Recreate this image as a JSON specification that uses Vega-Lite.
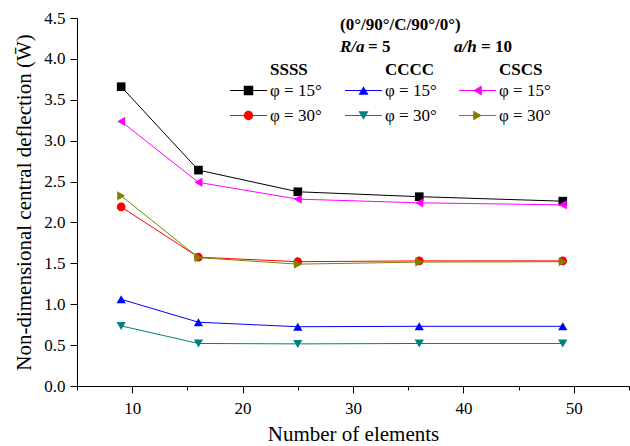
{
  "$schema": "https://vega.github.io/schema/vega-lite/v6.json",
  "width": 552,
  "height": 368,
  "autosize": {"type": "none"},
  "padding": {"left": 77, "top": 18, "right": 1, "bottom": 60},
  "background": "white",
  "data": {"values": [
    {"n": 9, "w": 3.66, "bc": "SSSS", "phi": "φ = 15°"},
    {"n": 16, "w": 2.64, "bc": "SSSS", "phi": "φ = 15°"},
    {"n": 25, "w": 2.375, "bc": "SSSS", "phi": "φ = 15°"},
    {"n": 36, "w": 2.315, "bc": "SSSS", "phi": "φ = 15°"},
    {"n": 49, "w": 2.26, "bc": "SSSS", "phi": "φ = 15°"},
    {"n": 9, "w": 2.19, "bc": "SSSS", "phi": "φ = 30°"},
    {"n": 16, "w": 1.575, "bc": "SSSS", "phi": "φ = 30°"},
    {"n": 25, "w": 1.52, "bc": "SSSS", "phi": "φ = 30°"},
    {"n": 36, "w": 1.53, "bc": "SSSS", "phi": "φ = 30°"},
    {"n": 49, "w": 1.53, "bc": "SSSS", "phi": "φ = 30°"},
    {"n": 9, "w": 1.06, "bc": "CCCC", "phi": "φ = 15°"},
    {"n": 16, "w": 0.78, "bc": "CCCC", "phi": "φ = 15°"},
    {"n": 25, "w": 0.725, "bc": "CCCC", "phi": "φ = 15°"},
    {"n": 36, "w": 0.73, "bc": "CCCC", "phi": "φ = 15°"},
    {"n": 49, "w": 0.73, "bc": "CCCC", "phi": "φ = 15°"},
    {"n": 9, "w": 0.735, "bc": "CCCC", "phi": "φ = 30°"},
    {"n": 16, "w": 0.52, "bc": "CCCC", "phi": "φ = 30°"},
    {"n": 25, "w": 0.515, "bc": "CCCC", "phi": "φ = 30°"},
    {"n": 36, "w": 0.52, "bc": "CCCC", "phi": "φ = 30°"},
    {"n": 49, "w": 0.52, "bc": "CCCC", "phi": "φ = 30°"},
    {"n": 9, "w": 3.235, "bc": "CSCS", "phi": "φ = 15°"},
    {"n": 16, "w": 2.49, "bc": "CSCS", "phi": "φ = 15°"},
    {"n": 25, "w": 2.285, "bc": "CSCS", "phi": "φ = 15°"},
    {"n": 36, "w": 2.24, "bc": "CSCS", "phi": "φ = 15°"},
    {"n": 49, "w": 2.215, "bc": "CSCS", "phi": "φ = 15°"},
    {"n": 9, "w": 2.325, "bc": "CSCS", "phi": "φ = 30°"},
    {"n": 16, "w": 1.57, "bc": "CSCS", "phi": "φ = 30°"},
    {"n": 25, "w": 1.49, "bc": "CSCS", "phi": "φ = 30°"},
    {"n": 36, "w": 1.515, "bc": "CSCS", "phi": "φ = 30°"},
    {"n": 49, "w": 1.52, "bc": "CSCS", "phi": "φ = 30°"}
  ]},
  "layer": [
    {
      "transform": [{"filter": "datum.bc === 'SSSS'"}],
      "mark": {"type": "line", "strokeWidth": 1},
      "encoding": {
        "x": {
          "field": "n", "type": "quantitative",
          "scale": {"domain": [5, 55], "nice": false, "zero": false},
          "axis": {
            "values": [5, 10, 15, 20, 25, 30, 35, 40, 45, 50, 55],
            "labelExpr": "datum.value % 10 === 0 ? datum.label : ''",
            "tickSize": {"condition": {"test": "datum.value % 10 === 0", "value": 7}, "value": 4},
            "labelPadding": 7,
            "labelFlush": false,
            "title": "Number of elements",
            "titlePadding": 7
          }
        },
        "y": {
          "field": "w", "type": "quantitative",
          "scale": {"domain": [0, 4.5], "nice": false},
          "axis": {
            "values": [0, 0.25, 0.5, 0.75, 1, 1.25, 1.5, 1.75, 2, 2.25, 2.5, 2.75, 3, 3.25, 3.5, 3.75, 4, 4.25, 4.5],
            "format": ".1f",
            "labelExpr": "round(datum.value * 4) % 2 === 0 ? datum.label : ''",
            "tickSize": {"condition": {"test": "round(datum.value * 4) % 2 === 0", "value": 7}, "value": 4},
            "labelPadding": 5,
            "labelFlush": false,
            "title": "Non-dimensional central deflection  (W̄)",
            "titlePadding": 9
          }
        },
        "color": {
          "field": "phi", "type": "nominal",
          "scale": {"domain": ["φ = 15°", "φ = 30°"], "range": ["#000000", "#ff0000"]},
          "legend": {
            "orient": "none", "legendX": 163, "legendY": 64, "title": null,
            "symbolType": "M-3.7,0H3.7", "symbolSize": 100, "symbolStrokeWidth": 1,
            "labelFontSize": 17, "labelExpr": "''", "labelOffset": 13, "rowPadding": 7
          }
        }
      }
    },
    {
      "transform": [{"filter": "datum.bc === 'SSSS'"}],
      "mark": {"type": "point", "filled": true, "size": 75, "opacity": 1},
      "encoding": {
        "x": {"field": "n", "type": "quantitative"},
        "y": {"field": "w", "type": "quantitative"},
        "color": {
          "field": "phi", "type": "nominal",
          "scale": {"domain": ["φ = 15°", "φ = 30°"], "range": ["#000000", "#ff0000"]},
          "legend": {
            "orient": "none", "legendX": 163, "legendY": 64, "title": null,
            "labelFont": "Liberation Serif", "labelFontSize": 17, "labelColor": "black",
            "labelOffset": 13, "symbolSize": 90, "rowPadding": 7, "symbolOpacity": 1
          }
        },
        "shape": {"field": "phi", "type": "nominal", "scale": {"domain": ["φ = 15°", "φ = 30°"], "range": ["square", "circle"]}, "legend": null}
      }
    },
    {
      "transform": [{"filter": "datum.bc === 'CCCC'"}],
      "mark": {"type": "line", "strokeWidth": 1},
      "encoding": {
        "x": {"field": "n", "type": "quantitative"},
        "y": {"field": "w", "type": "quantitative"},
        "color": {
          "field": "phi", "type": "nominal",
          "scale": {"domain": ["φ = 15°", "φ = 30°"], "range": ["#0000ff", "#008080"]},
          "legend": {
            "orient": "none", "legendX": 278, "legendY": 64, "title": null,
            "symbolType": "M-3.7,0H3.7", "symbolSize": 100, "symbolStrokeWidth": 1,
            "labelFontSize": 17, "labelExpr": "''", "labelOffset": 13, "rowPadding": 7
          }
        }
      }
    },
    {
      "transform": [{"filter": "datum.bc === 'CCCC'"}],
      "mark": {"type": "point", "filled": true, "size": 85, "opacity": 1},
      "encoding": {
        "x": {"field": "n", "type": "quantitative"},
        "y": {"field": "w", "type": "quantitative"},
        "color": {
          "field": "phi", "type": "nominal",
          "scale": {"domain": ["φ = 15°", "φ = 30°"], "range": ["#0000ff", "#008080"]},
          "legend": {
            "orient": "none", "legendX": 278, "legendY": 64, "title": null,
            "labelFont": "Liberation Serif", "labelFontSize": 17, "labelColor": "black",
            "labelOffset": 13, "symbolSize": 100, "rowPadding": 7, "symbolOpacity": 1
          }
        },
        "shape": {"field": "phi", "type": "nominal", "scale": {"domain": ["φ = 15°", "φ = 30°"], "range": ["triangle-up", "triangle-down"]}, "legend": null}
      }
    },
    {
      "transform": [{"filter": "datum.bc === 'CSCS'"}],
      "mark": {"type": "line", "strokeWidth": 1},
      "encoding": {
        "x": {"field": "n", "type": "quantitative"},
        "y": {"field": "w", "type": "quantitative"},
        "color": {
          "field": "phi", "type": "nominal",
          "scale": {"domain": ["φ = 15°", "φ = 30°"], "range": ["#ff00ff", "#808000"]},
          "legend": {
            "orient": "none", "legendX": 392, "legendY": 64, "title": null,
            "symbolType": "M-3.7,0H3.7", "symbolSize": 100, "symbolStrokeWidth": 1,
            "labelFontSize": 17, "labelExpr": "''", "labelOffset": 13, "rowPadding": 7
          }
        }
      }
    },
    {
      "transform": [{"filter": "datum.bc === 'CSCS'"}],
      "mark": {"type": "point", "filled": true, "size": 85, "opacity": 1},
      "encoding": {
        "x": {"field": "n", "type": "quantitative"},
        "y": {"field": "w", "type": "quantitative"},
        "color": {
          "field": "phi", "type": "nominal",
          "scale": {"domain": ["φ = 15°", "φ = 30°"], "range": ["#ff00ff", "#808000"]},
          "legend": {
            "orient": "none", "legendX": 392, "legendY": 64, "title": null,
            "labelFont": "Liberation Serif", "labelFontSize": 17, "labelColor": "black",
            "labelOffset": 13, "symbolSize": 100, "rowPadding": 7, "symbolOpacity": 1
          }
        },
        "shape": {"field": "phi", "type": "nominal", "scale": {"domain": ["φ = 15°", "φ = 30°"], "range": ["triangle-left", "triangle-right"]}, "legend": null}
      }
    },
    {
      "data": {"values": [{"t": "(0°/90°/C/90°/0°)"}]},
      "mark": {"type": "text", "font": "Liberation Serif", "fontSize": 17, "fontWeight": "bold", "align": "left", "baseline": "middle", "color": "black"},
      "encoding": {"x": {"datum": 28.82}, "y": {"datum": 4.414}, "text": {"field": "t"}}
    },
    {
      "data": {"values": [{"t": "R/a"}]},
      "mark": {"type": "text", "font": "Liberation Serif", "fontSize": 17, "fontWeight": "bold", "fontStyle": "italic", "align": "left", "baseline": "middle", "color": "black"},
      "encoding": {"x": {"datum": 28.82}, "y": {"datum": 4.145}, "text": {"field": "t"}}
    },
    {
      "data": {"values": [{"t": "= 5"}]},
      "mark": {"type": "text", "font": "Liberation Serif", "fontSize": 17, "fontWeight": "bold", "align": "left", "baseline": "middle", "color": "black"},
      "encoding": {"x": {"datum": 31.36}, "y": {"datum": 4.145}, "text": {"field": "t"}}
    },
    {
      "data": {"values": [{"t": "a/h"}]},
      "mark": {"type": "text", "font": "Liberation Serif", "fontSize": 17, "fontWeight": "bold", "fontStyle": "italic", "align": "left", "baseline": "middle", "color": "black"},
      "encoding": {"x": {"datum": 39.15}, "y": {"datum": 4.145}, "text": {"field": "t"}}
    },
    {
      "data": {"values": [{"t": "= 10"}]},
      "mark": {"type": "text", "font": "Liberation Serif", "fontSize": 17, "fontWeight": "bold", "align": "left", "baseline": "middle", "color": "black"},
      "encoding": {"x": {"datum": 41.6}, "y": {"datum": 4.145}, "text": {"field": "t"}}
    },
    {
      "data": {"values": [{"t": "SSSS"}]},
      "mark": {"type": "text", "font": "Liberation Serif", "fontSize": 17, "fontWeight": "bold", "align": "left", "baseline": "middle", "color": "black"},
      "encoding": {"x": {"datum": 22.48}, "y": {"datum": 3.864}, "text": {"field": "t"}}
    },
    {
      "data": {"values": [{"t": "CCCC"}]},
      "mark": {"type": "text", "font": "Liberation Serif", "fontSize": 17, "fontWeight": "bold", "align": "left", "baseline": "middle", "color": "black"},
      "encoding": {"x": {"datum": 32.9}, "y": {"datum": 3.864}, "text": {"field": "t"}}
    },
    {
      "data": {"values": [{"t": "CSCS"}]},
      "mark": {"type": "text", "font": "Liberation Serif", "fontSize": 17, "fontWeight": "bold", "align": "left", "baseline": "middle", "color": "black"},
      "encoding": {"x": {"datum": 43.22}, "y": {"datum": 3.864}, "text": {"field": "t"}}
    }
  ],
  "resolve": {"scale": {"color": "independent", "shape": "independent"}},
  "config": {
    "view": {"stroke": null},
    "axis": {
      "domainColor": "black", "tickColor": "black", "labelColor": "black", "titleColor": "black",
      "labelFont": "Liberation Serif", "titleFont": "Liberation Serif",
      "labelFontSize": 17, "titleFontSize": 21, "titleFontWeight": "normal",
      "grid": false, "domainWidth": 1, "tickWidth": 1
    }
  }
}
